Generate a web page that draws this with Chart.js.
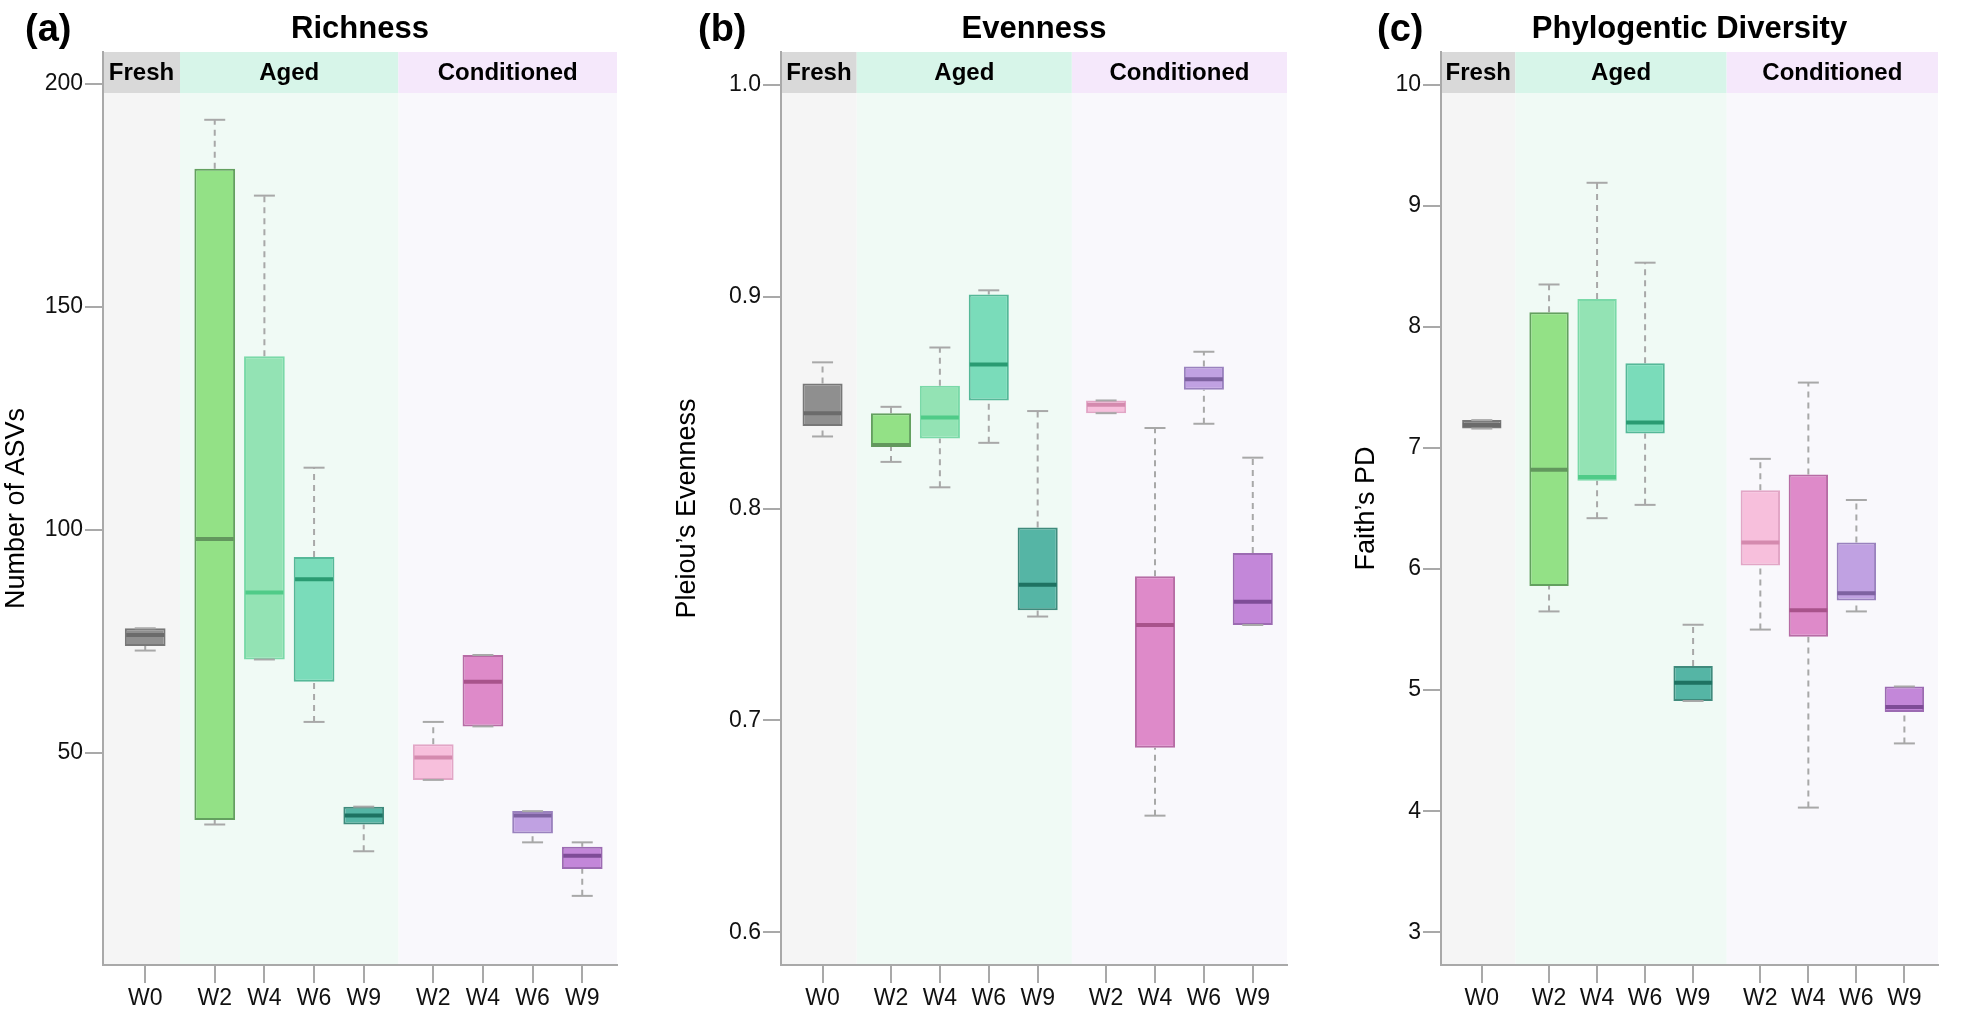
<!DOCTYPE html>
<html>
<head>
<meta charset="utf-8">
<script src="https://cdn.jsdelivr.net/npm/chart.js@4.4.1/dist/chart.umd.min.js"></script>
<style>
  html, body { margin: 0; padding: 0; background: #fff; overflow: hidden; }
  #wrap { position: relative; width: 1961px; height: 1012px; }
  #wrap canvas { position: absolute; top: 0; }
</style>
</head>
<body>
<div id="wrap">
  <canvas id="richChart" width="650" height="1012" style="left:0px"></canvas>
  <canvas id="evenChart" width="660" height="1012" style="left:650px"></canvas>
  <canvas id="pdChart" width="651" height="1012" style="left:1310px"></canvas>
</div>
<script>
// Categories
const weekLabels = ["W0", "W2", "W4", "W6", "W9", "W2", "W4", "W6", "W9"];
const groupLabels = ["Fresh", "Aged", "Conditioned"];
const groupOf = [0, 1, 1, 1, 1, 2, 2, 2, 2];

// Richness (number of ASVs): whisker low, Q1, median, Q3, whisker high
const richMin = [73, 34, 71, 57, 28, 44, 56, 30, 18];
const richQ1 = [74, 35, 71, 66, 34, 44, 56, 32, 24];
const richMed = [76.5, 98, 86, 89, 36, 49, 66, 36, 27];
const richQ3 = [78, 181, 139, 94, 38, 52, 72, 37, 29];
const richMax = [78, 192, 175, 114, 38, 57, 72, 37, 30];
const richTicks = [50, 100, 150, 200];

// Pielou's evenness
const evenMin = [0.834, 0.822, 0.81, 0.831, 0.749, 0.845, 0.655, 0.84, 0.745];
const evenQ1 = [0.839, 0.829, 0.833, 0.851, 0.752, 0.845, 0.687, 0.856, 0.745];
const evenMed = [0.845, 0.83, 0.843, 0.868, 0.764, 0.849, 0.745, 0.861, 0.756];
const evenQ3 = [0.859, 0.845, 0.858, 0.901, 0.791, 0.851, 0.768, 0.867, 0.779];
const evenMax = [0.869, 0.848, 0.876, 0.903, 0.846, 0.851, 0.838, 0.874, 0.824];
const evenTicks = [0.6, 0.7, 0.8, 0.9, 1.0];

// Faith's phylogenetic diversity
const pdMin = [7.16, 5.65, 6.42, 6.53, 4.91, 5.5, 4.03, 5.65, 4.56];
const pdQ1 = [7.16, 5.86, 6.73, 7.12, 4.91, 6.03, 5.44, 5.74, 4.82];
const pdMed = [7.19, 6.82, 6.76, 7.21, 5.06, 6.22, 5.66, 5.8, 4.86];
const pdQ3 = [7.23, 8.12, 8.23, 7.7, 5.2, 6.65, 6.78, 6.22, 5.03];
const pdMax = [7.23, 8.35, 9.19, 8.53, 5.54, 6.91, 7.54, 6.57, 5.03];
const pdTicks = [3, 4, 5, 6, 7, 8, 9, 10];

// Styles
const FONT = '"Liberation Sans", Arial, Helvetica, sans-serif';
const AXIS_GREY = "#a9a9a9";
const boxFill = ["#8f8f8f", "#93e186", "#93e3b4", "#7adcba", "#55b5a5",
                 "#f7bfdc", "#de8ac9", "#c0a1e2", "#c387d9"];
const boxEdge = ["#777777", "#63a05f", "#7ad9a8", "#55b898", "#3f8a7c",
                 "#e2a6c6", "#b76ca5", "#9a82be", "#9c6bb2"];
const medianColor = ["#6b6b6b", "#62975d", "#4fcb88", "#2a9b72", "#1e7262",
                     "#d48aae", "#a8538b", "#7e62a1", "#7e4c97"];
const bandFill = ["#f5f5f5", "#f0faf5", "#f9f8fc"];
const headerFill = ["#d9d9d9", "#d7f5e9", "#f5e8fb"];
const HEADER_H = 41;

// x position of each box: groups are pushed apart a little
const GROUP_GAP = 0.4;
const xPos = weekLabels.map((_, i) => i + GROUP_GAP * groupOf[i]);

// Background bands, group headers, panel title and letter
const panelDecor = {
  id: "panelDecor",
  beforeDraw(chart, args, opts) {
    const { ctx, chartArea: area, scales } = chart;
    const x = scales.x;
    const edges = [area.left];
    for (let i = 1; i < xPos.length; i++) {
      if (groupOf[i] !== groupOf[i - 1]) {
        edges.push(x.getPixelForValue((xPos[i] + xPos[i - 1]) / 2));
      }
    }
    edges.push(area.right);

    ctx.save();
    for (let g = 0; g < groupLabels.length; g++) {
      const l = edges[g];
      const w = edges[g + 1] - l;
      ctx.fillStyle = bandFill[g];
      ctx.fillRect(l, area.top, w, area.bottom - area.top);
      ctx.fillStyle = headerFill[g];
      ctx.fillRect(l, area.top, w, HEADER_H);
      ctx.fillStyle = "#000";
      ctx.font = "bold 24px " + FONT;
      ctx.textAlign = "center";
      ctx.textBaseline = "middle";
      ctx.fillText(groupLabels[g], l + w / 2, area.top + HEADER_H / 2 + 1);
    }
    ctx.restore();
  },
  afterDraw(chart, args, opts) {
    const { ctx, chartArea: area } = chart;
    ctx.save();
    ctx.fillStyle = "#000";
    ctx.textBaseline = "alphabetic";
    ctx.font = "bold 38px " + FONT;
    ctx.textAlign = "left";
    ctx.fillText(opts.letter, opts.letterX, 41);
    ctx.font = "bold 31px " + FONT;
    ctx.textAlign = "center";
    ctx.fillText(opts.title, (area.left + area.right) / 2, 38);
    ctx.restore();
  },
};

function makeBoxChart(cfg) {
  const [lo, q1, med, q3, hi] = cfg.stats;

  // dashed whiskers, one line broken by gaps
  const whiskers = [];
  xPos.forEach((x, i) => {
    whiskers.push({ x: x, y: q3[i] }, { x: x, y: hi[i] }, { x: x, y: null });
    whiskers.push({ x: x, y: lo[i] }, { x: x, y: q1[i] }, { x: x, y: null });
  });
  const caps = [];
  xPos.forEach((x, i) => {
    caps.push({ x: x, y: lo[i] }, { x: x, y: hi[i] });
  });

  new Chart(document.getElementById(cfg.id), {
    type: "bar",
    data: {
      datasets: [
        {
          type: "line",
          data: whiskers,
          borderColor: "#a8a8a8",
          borderWidth: 2,
          borderDash: [6, 5],
          pointRadius: 0,
          spanGaps: false,
          order: 4,
        },
        {
          type: "bar",
          data: xPos.map((x, i) => ({ x: x, y: [q1[i], q3[i]] })),
          backgroundColor: boxFill,
          borderColor: boxEdge,
          borderWidth: 2,
          borderSkipped: false,
          categoryPercentage: 0.82,
          barPercentage: 1,
          grouped: false,
          order: 3,
        },
        {
          type: "line",
          data: xPos.map((x, i) => ({ x: x, y: med[i] })),
          showLine: false,
          pointStyle: "line",
          pointRadius: 19,
          pointBorderWidth: 4,
          pointBorderColor: medianColor,
          order: 2,
        },
        {
          type: "line",
          data: caps,
          showLine: false,
          pointStyle: "line",
          pointRadius: 10.5,
          pointBorderWidth: 2,
          pointBorderColor: "#a8a8a8",
          order: 1,
        },
      ],
    },
    options: {
      responsive: false,
      animation: false,
      events: [],
      layout: { padding: { top: 52, right: cfg.padRight, left: 0, bottom: 0 } },
      plugins: {
        legend: { display: false },
        tooltip: { enabled: false },
        panelDecor: { letter: cfg.letter, letterX: cfg.letterX, title: cfg.title },
      },
      scales: {
        x: {
          type: "linear",
          min: -0.85,
          max: 9.5,
          offset: false,
          afterBuildTicks: (scale) => {
            scale.ticks = xPos.map((v) => ({ value: v }));
          },
          afterFit: (scale) => {
            scale.height = 47;
          },
          ticks: {
            autoSkip: false,
            maxRotation: 0,
            padding: 2,
            color: "#111",
            font: { family: FONT, size: 23 },
            callback: (value, index) => weekLabels[index],
          },
          grid: {
            offset: false,
            drawOnChartArea: false,
            tickLength: 18,
            color: AXIS_GREY,
            lineWidth: 2,
          },
          border: { color: AXIS_GREY, width: 2 },
        },
        y: {
          type: "linear",
          min: cfg.yMin,
          max: cfg.yMax,
          afterBuildTicks: (scale) => {
            scale.ticks = cfg.ticks.map((v) => ({ value: v }));
          },
          afterFit: (scale) => {
            scale.width = cfg.axisWidth;
          },
          ticks: {
            padding: 2,
            color: "#111",
            font: { family: FONT, size: 23 },
            callback: (value) => value.toFixed(cfg.decimals),
          },
          grid: {
            drawOnChartArea: false,
            tickLength: 18,
            color: AXIS_GREY,
            lineWidth: 2,
          },
          border: { color: AXIS_GREY, width: 2 },
          title: {
            display: true,
            text: cfg.yTitle,
            color: "#000",
            font: { family: FONT, size: 27 },
            padding: { top: cfg.titlePad, bottom: 0 },
          },
        },
      },
    },
    plugins: [panelDecor],
  });
}

document.addEventListener("DOMContentLoaded", function () {
  makeBoxChart({
    id: "richChart",
    letter: "(a)",
    letterX: 25,
    title: "Richness",
    yTitle: "Number of ASVs",
    stats: [richMin, richQ1, richMed, richQ3, richMax],
    ticks: richTicks,
    yMin: 2.5,
    yMax: 207.2,
    decimals: 0,
    axisWidth: 103,
    titlePad: 0,
    padRight: 33,
  });

  makeBoxChart({
    id: "evenChart",
    letter: "(b)",
    letterX: 48,
    title: "Evenness",
    yTitle: "Pleiou’s Evenness",
    stats: [evenMin, evenQ1, evenMed, evenQ3, evenMax],
    ticks: evenTicks,
    yMin: 0.5845,
    yMax: 1.0155,
    decimals: 1,
    axisWidth: 131,
    titlePad: 21,
    padRight: 13,
  });

  makeBoxChart({
    id: "pdChart",
    letter: "(c)",
    letterX: 67,
    title: "Phylogentic Diversity",
    yTitle: "Faith’s PD",
    stats: [pdMin, pdQ1, pdMed, pdQ3, pdMax],
    ticks: pdTicks,
    yMin: 2.73,
    yMax: 10.27,
    decimals: 0,
    axisWidth: 131,
    titlePad: 40,
    padRight: 9,
  });
});
</script>
</body>
</html>
